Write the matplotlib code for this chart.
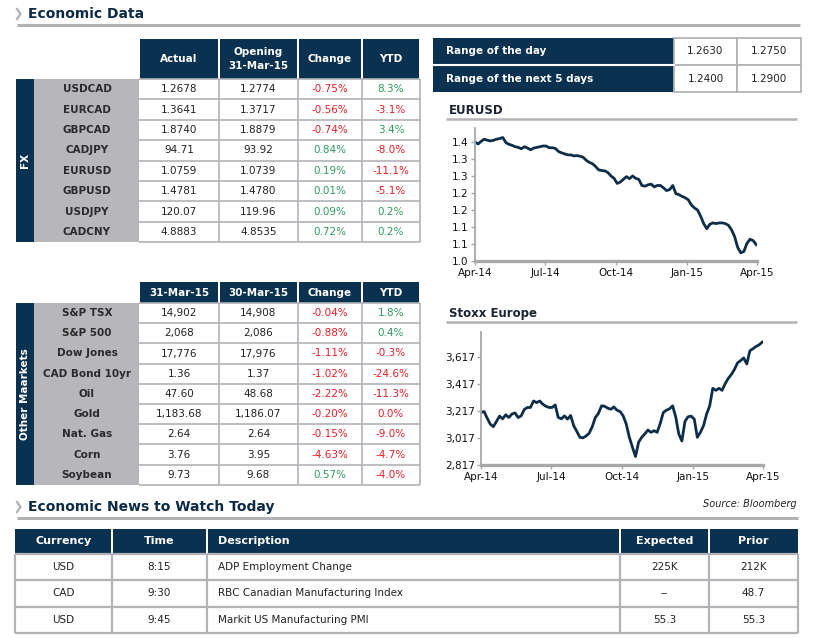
import pandas as pd
import matplotlib
matplotlib.use('Agg')
import matplotlib.pyplot as plt
import matplotlib.dates as mdates
from matplotlib.patches import Rectangle
from matplotlib.ticker import FixedLocator, FormatStrFormatter, FuncFormatter

plt.rcParams['font.family'] = ['DejaVu Sans']

# ---------------- data ----------------
fx_pairs = ['USDCAD', 'EURCAD', 'GBPCAD', 'CADJPY', 'EURUSD', 'GBPUSD', 'USDJPY', 'CADCNY']
fx_actual = ['1.2678', '1.3641', '1.8740', '94.71', '1.0759', '1.4781', '120.07', '4.8883']
fx_opening = ['1.2774', '1.3717', '1.8879', '93.92', '1.0739', '1.4780', '119.96', '4.8535']
fx_change = [-0.75, -0.56, -0.74, 0.84, 0.19, 0.01, 0.09, 0.72]
fx_ytd = [8.3, -3.1, 3.4, -8.0, -11.1, -5.1, 0.2, 0.2]

mkt_names = ['S&P TSX', 'S&P 500', 'Dow Jones', 'CAD Bond 10yr', 'Oil', 'Gold', 'Nat. Gas', 'Corn', 'Soybean']
mkt_last = ['14,902', '2,068', '17,776', '1.36', '47.60', '1,183.68', '2.64', '3.76', '9.73']
mkt_prev = ['14,908', '2,086', '17,976', '1.37', '48.68', '1,186.07', '2.64', '3.95', '9.68']
mkt_change = [-0.04, -0.88, -1.11, -1.02, -2.22, -0.20, -0.15, -4.63, 0.57]
mkt_ytd = [1.8, 0.4, -0.3, -24.6, -11.3, 0.0, -9.0, -4.7, -4.0]

range_labels = ['Range of the day', 'Range of the next 5 days']
range_low = ['1.2630', '1.2400']
range_high = ['1.2750', '1.2900']

news_currency = ['USD', 'CAD', 'USD']
news_time = ['8:15', '9:30', '9:45']
news_desc = ['ADP Employment Change', 'RBC Canadian Manufacturing Index', 'Markit US Manufacturing PMI']
news_expected = ['225K', '--', '55.3']
news_prior = ['212K', '48.7', '55.3']

# one reading every 4 days, Apr-14 to Mar-15
chart_dates = pd.date_range('2014-04-01', periods=92, freq='4D')
eurusd = [1.390, 1.384, 1.392, 1.398, 1.395, 1.393, 1.395, 1.398, 1.400, 1.403,
          1.388, 1.383, 1.380, 1.376, 1.374, 1.370, 1.376, 1.372, 1.367, 1.372,
          1.374, 1.376, 1.378, 1.378, 1.373, 1.373, 1.371, 1.362, 1.358, 1.355,
          1.352, 1.352, 1.349, 1.350, 1.348, 1.345, 1.336, 1.330, 1.326, 1.318,
          1.308, 1.306, 1.305, 1.300, 1.290, 1.283, 1.268, 1.272, 1.280, 1.288,
          1.282, 1.290, 1.283, 1.280, 1.262, 1.260, 1.264, 1.266, 1.258, 1.262,
          1.262, 1.255, 1.247, 1.250, 1.262, 1.238, 1.235, 1.230, 1.226, 1.220,
          1.205, 1.196, 1.190, 1.172, 1.150, 1.135, 1.148, 1.152, 1.150, 1.152,
          1.152, 1.150, 1.145, 1.132, 1.112, 1.080, 1.064, 1.068, 1.092, 1.104,
          1.100, 1.088]
stoxx = [3206, 3213, 3164, 3120, 3101, 3140, 3179, 3159, 3189, 3169,
         3194, 3203, 3169, 3181, 3228, 3243, 3243, 3291, 3279, 3291,
         3267, 3252, 3243, 3243, 3262, 3169, 3159, 3181, 3157, 3184,
         3108, 3066, 3022, 3018, 3032, 3052, 3101, 3169, 3199, 3255,
         3252, 3238, 3230, 3247, 3223, 3213, 3181, 3120, 3022, 2949,
         2880, 2986, 3022, 3047, 3076, 3059, 3071, 3059, 3125, 3206,
         3223, 3233, 3255, 3174, 3047, 2995, 3140, 3174, 3179, 3157,
         3022, 3059, 3108, 3194, 3255, 3385, 3370, 3385, 3370, 3419,
         3458, 3487, 3524, 3573, 3590, 3610, 3565, 3663, 3678, 3695,
         3707, 3727]

# ---------------- styling ----------------
W, H = 817, 638
NAVY = '#0b3150'
LABEL_GRAY = '#b7b7bb'
LINE_GRAY = '#b3b3b7'
RED = '#ee1c25'
GREEN = '#2e9960'
TEXT = '#222222'
TITLE = '#0d2a45'
FS = 7.5

fig = plt.figure(figsize=(W / 100, H / 100), dpi=100)
ax = fig.add_axes([0, 0, 1, 1])
ax.set_xlim(0, W)
ax.set_ylim(H, 0)
ax.axis('off')


def section_title(x, y, text, x_end):
    ax.plot([x - 11, x - 7.5, x - 11], [y - 5, y, y + 5], color='#b0b0b0', lw=1.6)
    ax.text(x, y, text, fontsize=10, fontweight='bold', color=TITLE, va='center', ha='left')
    ax.plot([x - 11, x_end], [y + 11, y + 11], color=LINE_GRAY, lw=2.2, solid_capstyle='butt')


def pct_color(v):
    return GREEN if v > 0 else RED


def data_table(top, hdr_h, row_h, headers, names, side_label, cols):
    edges = [139, 219, 298, 362, 420]
    n = len(names)
    bottom = top + hdr_h + n * row_h
    # header cells
    for i, h in enumerate(headers):
        x0, x1 = edges[i], edges[i + 1]
        ax.add_patch(Rectangle((x0 + 0.8, top), x1 - x0 - 1.6, hdr_h, facecolor=NAVY, edgecolor='none'))
        ax.text((x0 + x1) / 2, top + hdr_h / 2, h, color='white', fontsize=FS, fontweight='bold',
                ha='center', va='center', linespacing=1.6)
    # side bar and label column
    ax.add_patch(Rectangle((16, top + hdr_h), 18, n * row_h, facecolor=NAVY, edgecolor='none'))
    ax.text(25, top + hdr_h + n * row_h / 2, side_label, rotation=90, color='white', fontsize=FS,
            fontweight='bold', ha='center', va='center')
    ax.add_patch(Rectangle((34, top + hdr_h), edges[0] - 34, n * row_h, facecolor=LABEL_GRAY, edgecolor='none'))
    # grid lines
    for r in range(n + 1):
        y = top + hdr_h + r * row_h
        ax.plot([edges[0], edges[-1]], [y, y], color=LINE_GRAY, lw=1.2, solid_capstyle='butt')
    for x in edges[1:]:
        ax.plot([x, x], [top + hdr_h, bottom], color=LINE_GRAY, lw=1.2, solid_capstyle='butt')
    # contents
    for r in range(n):
        yc = top + hdr_h + (r + 0.5) * row_h
        ax.text(87, yc, names[r], fontsize=FS, color='#2a2a2a', fontweight='bold', ha='center', va='center')
        c1, c2, c3, c4 = cols
        ax.text((edges[0] + edges[1]) / 2, yc, c1[r], fontsize=FS, color=TEXT, ha='center', va='center')
        ax.text((edges[1] + edges[2]) / 2, yc, c2[r], fontsize=FS, color=TEXT, ha='center', va='center')
        ax.text((edges[2] + edges[3]) / 2, yc, f'{c3[r]:.2f}%', fontsize=FS, color=pct_color(c3[r]),
                ha='center', va='center')
        ax.text((edges[3] + edges[4]) / 2, yc, f'{c4[r]:.1f}%', fontsize=FS, color=pct_color(c4[r]),
                ha='center', va='center')


# ---------------- Economic Data ----------------
section_title(28, 14, 'Economic Data', 800)

data_table(39, 40, 20.4, ['Actual', 'Opening\n31-Mar-15', 'Change', 'YTD'], fx_pairs, 'FX',
           (fx_actual, fx_opening, fx_change, fx_ytd))
data_table(282, 21, 20.2, ['31-Mar-15', '30-Mar-15', 'Change', 'YTD'], mkt_names, 'Other Maarkets',
           (mkt_last, mkt_prev, mkt_change, mkt_ytd))

# range table
ax.add_patch(Rectangle((433, 38), 241, 54, facecolor=NAVY, edgecolor='none'))
ax.plot([433, 674], [64.5, 64.5], color='white', lw=1.5)
for i, lab in enumerate(range_labels):
    y0 = 38 + i * 27
    ax.text(446, y0 + 13.5, lab, color='white', fontsize=FS, fontweight='bold', ha='left', va='center')
    ax.add_patch(Rectangle((674, y0), 63, 27, facecolor='white', edgecolor=LINE_GRAY, lw=1.3))
    ax.add_patch(Rectangle((737, y0), 64, 27, facecolor='white', edgecolor=LINE_GRAY, lw=1.3))
    ax.text(705.5, y0 + 13.5, range_low[i], color=TEXT, fontsize=FS, ha='center', va='center')
    ax.text(769, y0 + 13.5, range_high[i], color=TEXT, fontsize=FS, ha='center', va='center')


# ---------------- charts ----------------
def chart(title, title_y, box, values, yticks, fmt, ylim):
    ax.text(449, title_y, title, fontsize=8.5, fontweight='bold', color='#1b2433', ha='left', va='center')
    ax.plot([446, 797], [title_y + 9, title_y + 9], color=LINE_GRAY, lw=1.8, solid_capstyle='butt')
    x0, y0, x1, y1 = box
    cax = fig.add_axes([x0 / W, 1 - y1 / H, (x1 - x0) / W, (y1 - y0) / H])
    cax.plot(chart_dates, values, color='#0d2d48', lw=2.0, solid_joinstyle='round')
    cax.set_xlim(pd.Timestamp('2014-04-01'), pd.Timestamp('2015-04-01'))
    cax.set_ylim(*ylim)
    cax.xaxis.set_major_locator(FixedLocator(mdates.date2num(pd.to_datetime(
        ['2014-04-01', '2014-07-01', '2014-10-01', '2015-01-01', '2015-04-01']))))
    cax.xaxis.set_major_formatter(mdates.DateFormatter('%b-%y'))
    cax.yaxis.set_major_locator(FixedLocator(yticks))
    cax.yaxis.set_major_formatter(fmt)
    for s in ['top', 'right']:
        cax.spines[s].set_visible(False)
    cax.spines['left'].set_color('#a8a8a8')
    cax.spines['left'].set_linewidth(1.3)
    cax.spines['bottom'].set_color('#a8a8a8')
    cax.spines['bottom'].set_linewidth(2.4)
    cax.tick_params(axis='both', labelsize=7.5, colors='#a8a8a8', labelcolor='#111111', length=3, width=1)
    cax.tick_params(axis='x', pad=2)
    cax.tick_params(axis='y', pad=1.5)
    cax.set_facecolor('none')
    return cax


chart('EURUSD', 110, (475, 128, 757, 261), eurusd,
      [1.04, 1.09, 1.14, 1.19, 1.24, 1.29, 1.34, 1.39], FormatStrFormatter('%.1f'), (1.04, 1.431))
chart('Stoxx Europe', 313, (481, 332, 763, 465), stoxx,
      [2817, 3017, 3217, 3417, 3617], FuncFormatter(lambda v, p: f'{v:,.0f}'), (2817, 3802))

# ---------------- Economic News ----------------
section_title(28, 507, 'Economic News to Watch Today', 798)
ax.text(797, 504, 'Source: Bloomberg', fontsize=7, style='italic', color='#222222', ha='right', va='center')

news_edges = [15, 112, 207, 620, 709, 798]
news_headers = ['Currency', 'Time', 'Description', 'Expected', 'Prior']
hdr_top, hdr_h, row_h = 529, 25, 26.3
for i, h in enumerate(news_headers):
    x0, x1 = news_edges[i], news_edges[i + 1]
    ax.add_patch(Rectangle((x0 + (1 if i else 0), hdr_top), x1 - x0 - (1 if i else 0) - (1 if i < 4 else 0),
                           hdr_h, facecolor=NAVY, edgecolor='none'))
    if h == 'Description':
        ax.text(218, hdr_top + hdr_h / 2, h, color='white', fontsize=FS + 0.5, fontweight='bold',
                ha='left', va='center')
    else:
        ax.text((x0 + x1) / 2, hdr_top + hdr_h / 2, h, color='white', fontsize=FS + 0.5, fontweight='bold',
                ha='center', va='center')

body_top = hdr_top + hdr_h
body_bot = body_top + len(news_currency) * row_h
for r in range(len(news_currency) + 1):
    y = body_top + r * row_h
    ax.plot([news_edges[0], news_edges[-1]], [y, y], color=LINE_GRAY, lw=1.6, solid_capstyle='butt')
for x in news_edges:
    ax.plot([x, x], [body_top, body_bot], color=LINE_GRAY, lw=1.6, solid_capstyle='butt')

for r in range(len(news_currency)):
    yc = body_top + (r + 0.5) * row_h
    ax.text(63.5, yc, news_currency[r], fontsize=FS, color=TEXT, ha='center', va='center')
    ax.text(159.5, yc, news_time[r], fontsize=FS, color=TEXT, ha='center', va='center')
    ax.text(218, yc, news_desc[r], fontsize=FS, color=TEXT, ha='left', va='center')
    ax.text(664.5, yc, news_expected[r], fontsize=FS, color=TEXT, ha='center', va='center')
    ax.text(753.5, yc, news_prior[r], fontsize=FS, color=TEXT, ha='center', va='center')

fig.savefig('out.png', dpi=100)
